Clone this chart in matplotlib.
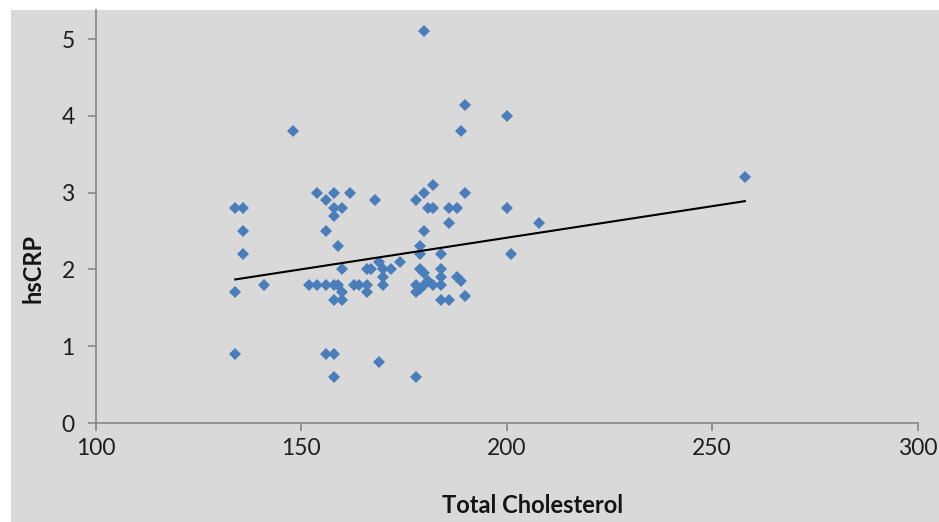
from matplotlib import pyplot as plt
from matplotlib.patches import Rectangle

# hsCRP vs total cholesterol
chol = [134, 136, 136, 136, 141, 134, 134, 148,
        154, 158, 162, 156, 158, 160, 158, 168, 156, 159,
        160, 166, 167, 169, 170, 172, 174, 170, 170,
        152, 154, 156, 158, 159, 160, 158, 160, 163, 164, 166, 166,
        156, 158, 169, 158, 178,
        180, 190, 200, 189, 182, 180, 178, 181, 182, 186, 188, 190,
        186, 180, 179, 179, 184, 179, 180, 184, 184,
        178, 180, 182, 184, 181, 178, 179, 184, 186, 188, 189, 190,
        200, 201, 208, 258]
hscrp = [2.8, 2.8, 2.5, 2.2, 1.8, 1.7, 0.9, 3.8,
         3.0, 3.0, 3.0, 2.9, 2.8, 2.8, 2.7, 2.9, 2.5, 2.3,
         2.0, 2.0, 2.0, 2.1, 2.0, 2.0, 2.1, 1.9, 1.8,
         1.8, 1.8, 1.8, 1.8, 1.8, 1.7, 1.6, 1.6, 1.8, 1.8, 1.8, 1.7,
         0.9, 0.9, 0.8, 0.6, 0.6,
         5.1, 4.14, 4.0, 3.8, 3.1, 3.0, 2.9, 2.8, 2.8, 2.8, 2.8, 3.0,
         2.6, 2.5, 2.3, 2.2, 2.2, 2.0, 1.95, 2.0, 1.9,
         1.8, 1.8, 1.8, 1.8, 1.85, 1.7, 1.75, 1.6, 1.6, 1.9, 1.85, 1.65,
         2.8, 2.2, 2.6, 3.2]

# linear trend line ends
trend_x = [134, 258]
trend_y = [1.87, 2.89]

x_ticks = [100, 150, 200, 250, 300]
y_ticks = [0, 1, 2, 3, 4, 5]

bg = '#d9d9d9'
plt.rcParams['font.family'] = ['Lato', 'DejaVu Sans']

fig = plt.figure(figsize = (9.39, 5.22), dpi = 100, facecolor = 'white')
fig.patches.append(Rectangle((11 / 939, 0), 1, (522 - 10) / 522, transform = fig.transFigure,
                             facecolor = bg, edgecolor = 'none', zorder = -10))

ax = fig.add_axes([95.5 / 939, (522 - 423) / 522, 822 / 939, 413 / 522])
ax.set_facecolor('none')
ax.plot(chol, hscrp, linestyle = 'none', marker = 'D', markersize = 6.3,
        color = '#4a7ebb', markeredgewidth = 0, clip_on = False)
ax.plot(trend_x, trend_y, color = 'black', linewidth = 1.5)

ax.set_xlim(100, 300)
ax.set_ylim(0, 5.38)
ax.set_xticks(x_ticks)
ax.set_yticks(y_ticks)
for s in ['top', 'right']:
    ax.spines[s].set_visible(False)
for s in ['left', 'bottom']:
    ax.spines[s].set_color('#868686')
    ax.spines[s].set_linewidth(1.2)
ax.tick_params(axis = 'both', color = '#868686', length = 6, width = 1.2,
               labelsize = 16.5, labelcolor = '#1f1f1f')
ax.tick_params(axis = 'x', pad = 5)
ax.tick_params(axis = 'y', pad = 9)

ax.set_xlabel("Total Cholesterol", fontsize = 17, fontweight = 'bold', color = '#141414')
ax.set_ylabel("hsCRP", fontsize = 17, fontweight = 'bold', color = '#141414')
ax.xaxis.set_label_coords(0.532, -0.172)
ax.yaxis.set_label_coords(-0.062, 0.373)

plt.savefig("out.png", dpi = 100, facecolor = fig.get_facecolor())
